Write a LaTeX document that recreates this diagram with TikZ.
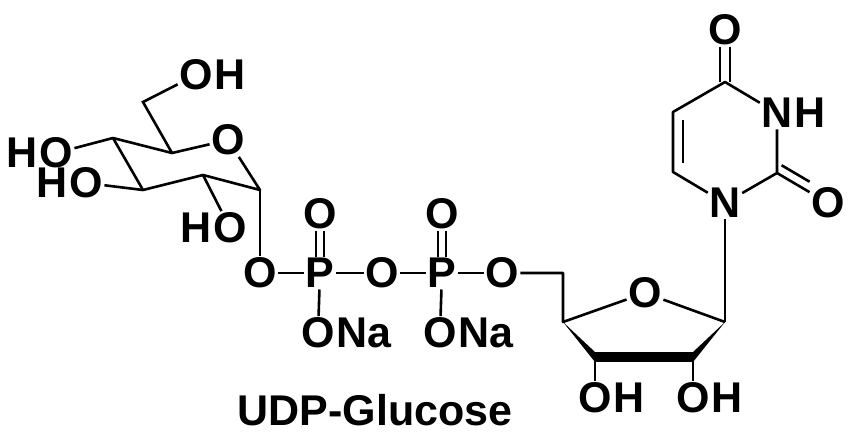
\documentclass[tikz,border=0pt]{standalone}
\usepackage{fontspec}
\setmainfont{Liberation Sans}
\usetikzlibrary{calc}

\tikzset{
  atom/.style={inner sep=1.5pt,font=\bfseries\fontsize{43}{43}\selectfont},
  hyd/.style={atom,inner sep=0pt},
  bond/.style={line width=2.6pt}
}

\begin{document}
\begin{tikzpicture}[x=1pt,y=-1pt]
\useasboundingbox (0,0) rectangle (855,447);

% glucose
\coordinate (g1) at (260,190);
\coordinate (g2) at (203,175);
\coordinate (g3) at (143,190);
\coordinate (g4) at (113,138);
\coordinate (g5) at (172,153);
\coordinate (g6) at (143,102);
\node[atom] (go) at (228,140) {O};
\node[atom] (go6) at (196,75) {O};
\node[hyd,anchor=west] at (go6.east) {H};
\node[atom] (go4) at (56,153) {O};
\node[hyd,anchor=east] at (go4.west) {H};
\node[atom] (go3) at (86,183) {O};
\node[hyd,anchor=east] at (go3.west) {H};
\node[atom] (go2) at (230,228) {O};
\node[hyd,anchor=east] at (go2.west) {H};

\draw[bond,line join=round] (go) -- (g5) -- (g4) -- (g3) -- (g2) -- (g1) -- (go);
\draw[bond] (g5) -- (g6) -- (go6);
\draw[bond] (g4) -- (go4);
\draw[bond] (g3) -- (go3);
\draw[bond] (g2) -- (go2);

% diphosphate
\node[atom] (o1) at (260,273) {O};
\node[atom] (p1) at (320,273) {P};
\node[atom] (ob) at (382,273) {O};
\node[atom] (p2) at (442,273) {P};
\node[atom] (o5) at (502,273) {O};
\node[atom] (pa) at (320,214) {O};
\node[atom] (pb) at (442,214) {O};
\node[atom] (na1) at (318,333) {O};
\node[hyd,anchor=west] at (na1.east) {Na};
\node[atom] (na2) at (440,333) {O};
\node[hyd,anchor=west] at (na2.east) {Na};

\draw[bond] (g1) -- (o1);
\draw[bond] (o1) -- (p1) -- (ob) -- (p2) -- (o5);
\draw[bond] (p1) -- (na1);
\draw[bond] (p2) -- (na2);
\foreach \p/\o in {p1/pa,p2/pb}{
  \draw[bond] ([xshift=-4pt]\p.north) -- ([xshift=-4pt]\o.south);
  \draw[bond] ([xshift=4pt]\p.north) -- ([xshift=4pt]\o.south);
}

% ribose
\coordinate (r5) at (563,273);
\coordinate (r4) at (563,322);
\coordinate (r3) at (595,357);
\coordinate (r2) at (693,357);
\coordinate (r1) at (725,322);
\node[atom] (ro) at (645,293) {O};
\node[atom] (ro3) at (595,398) {O};
\node[hyd,anchor=west] at (ro3.east) {H};
\node[atom] (ro2) at (693,398) {O};
\node[hyd,anchor=west] at (ro2.east) {H};

\draw[bond,line join=round] (o5) -- (r5) -- (r4) -- (ro) -- (r1);
\fill (r4) -- ($(r3)+(0,-5)$) -- ($(r3)+(0,5)$) -- cycle;
\fill ($(r3)+(0,-5)$) rectangle ($(r2)+(0,5)$);
\fill (r1) -- ($(r2)+(0,-5)$) -- ($(r2)+(0,5)$) -- cycle;
\draw[bond] (r3) -- (ro3);
\draw[bond] (r2) -- (ro2);

% uracil
\node[atom] (n1) at (725,203) {N};
\coordinate (c2) at (777,173);
\node[atom] (n3) at (777,113) {N};
\node[hyd,anchor=west] at (n3.east) {H};
\coordinate (c4) at (725,82);
\coordinate (c5) at (673,112);
\coordinate (c6) at (673,172);
\node[atom] (o4) at (725,30) {O};
\node[atom] (o2) at (828,203) {O};

\draw[bond] (r1) -- (n1);
\draw[bond,line join=round] (n1) -- (c2) -- (n3);
\draw[bond,line join=round] (n3) -- (c4) -- (c5) -- (c6) -- (n1);
\draw[bond] ([xshift=10pt]c5) ++(0,8) -- ++(0,43);
\draw[bond] ([xshift=-5pt]c4) -- ([xshift=-5pt]o4.south);
\draw[bond] ([xshift=5pt]c4) -- ([xshift=5pt]o4.south);
\draw[bond] (c2) -- (o2);
\draw[bond] ($(c2)!9pt!90:(o2)$) -- ($(o2)!0.45!(c2)+($(c2)!9pt!90:(o2)$)-(c2)$);

\node[atom] (title) at (375,410) {UDP-Glucose};
\end{tikzpicture}
\end{document}
